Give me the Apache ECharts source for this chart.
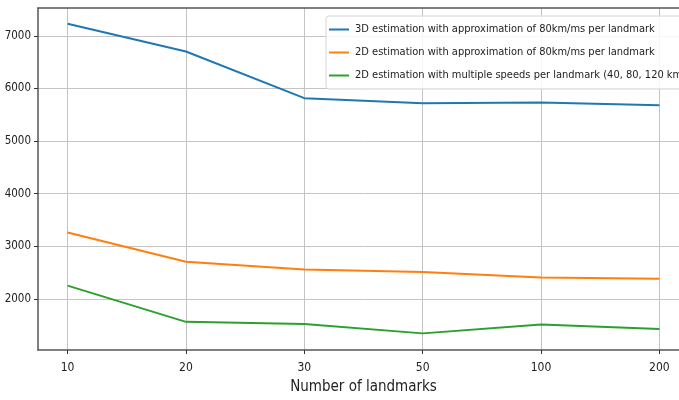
<!DOCTYPE html>
<html>
<head>
<meta charset="utf-8">
<script src="https://cdn.jsdelivr.net/npm/echarts@6/dist/echarts.min.js"></script>
<style>
  html, body { margin: 0; padding: 0; background: #fff; overflow: hidden; }
  /* the reference crops the right edge of the axes, so the chart is a bit wider than the window */
  #chart { width: 690px; height: 400px; }
</style>
</head>
<body>
<div id="chart"></div>
<script>
// data
const landmarks = ['10', '20', '30', '50', '100', '200'];
const est3d80 = [7232, 6703, 5817, 5722, 5735, 5684];
const est2d80 = [3265, 2709, 2558, 2514, 2406, 2382];
const est2dMulti = [2253, 1565, 1522, 1346, 1516, 1427];
const yTicks = [2000, 3000, 4000, 5000, 6000, 7000];
const seriesNames = [
    '3D estimation with approximation of 80km/ms per landmark',
    '2D estimation with approximation of 80km/ms per landmark',
    '2D estimation with multiple speeds per landmark (40, 80, 120 km/ms)'
];

const font = "'Liberation Sans Narrow', 'DejaVu Sans Condensed', sans-serif";
const xIdx = landmarks.map((_, i) => i);
const pairs = (arr) => arr.map((v, i) => [i, v]);

const chart = echarts.init(document.getElementById('chart'));
chart.setOption({
    animation: false,
    color: ['#1f77b4', '#ff7f0e', '#2ca02c'],
    grid: { left: 38, top: 8, right: 1, bottom: 48 },
    legend: {
        orient: 'vertical',
        left: 326,
        top: 16,
        padding: [8, 30, 8, 3],
        itemGap: 12,
        itemWidth: 20,
        itemHeight: 2,
        backgroundColor: 'rgba(255,255,255,0.85)',
        borderColor: '#d4d4d4',
        borderWidth: 1,
        borderRadius: 3,
        icon: 'rect',
        textStyle: { fontFamily: font, fontSize: 11, color: '#222', padding: [0, 0, 0, 1] },
        data: seriesNames
    },
    xAxis: [{
        type: 'value',
        min: -0.25,
        max: 5.25,
        name: 'Number of landmarks',
        nameLocation: 'middle',
        nameGap: 30,
        nameTextStyle: { fontFamily: font, fontSize: 15, color: '#222' },
        axisLine: { onZero: false, lineStyle: { color: '#555', width: 1.5 } },
        axisTick: { customValues: xIdx, length: 4, lineStyle: { color: '#333' } },
        axisLabel: {
            customValues: xIdx,
            formatter: (v) => landmarks[Math.round(v)],
            fontFamily: font, fontSize: 12, color: '#222', margin: 12
        },
        splitLine: { show: true, lineStyle: { color: '#c4c4c4', width: 1 } }
    }, {
        // top spine only
        type: 'value',
        position: 'top',
        min: -0.25,
        max: 5.25,
        axisLine: { show: true, onZero: false, lineStyle: { color: '#555', width: 1.5 } },
        axisTick: { show: false },
        axisLabel: { show: false },
        splitLine: { show: false }
    }],
    yAxis: {
        type: 'value',
        min: 1030,
        max: 7530,
        axisLine: { show: true, onZero: false, lineStyle: { color: '#555', width: 1.5 } },
        axisTick: { show: true, customValues: yTicks, length: 4, lineStyle: { color: '#333' } },
        axisLabel: {
            customValues: yTicks,
            formatter: (v) => String(v),
            fontFamily: font, fontSize: 11.5, color: '#222', margin: 7
        },
        splitLine: { show: true, lineStyle: { color: '#c4c4c4', width: 1 } }
    },
    series: [
        { name: seriesNames[0], type: 'line', data: pairs(est3d80), symbol: 'none', lineStyle: { width: 2 } },
        { name: seriesNames[1], type: 'line', data: pairs(est2d80), symbol: 'none', lineStyle: { width: 2 } },
        { name: seriesNames[2], type: 'line', data: pairs(est2dMulti), symbol: 'none', lineStyle: { width: 2 } }
    ]
});
</script>
</body>
</html>
